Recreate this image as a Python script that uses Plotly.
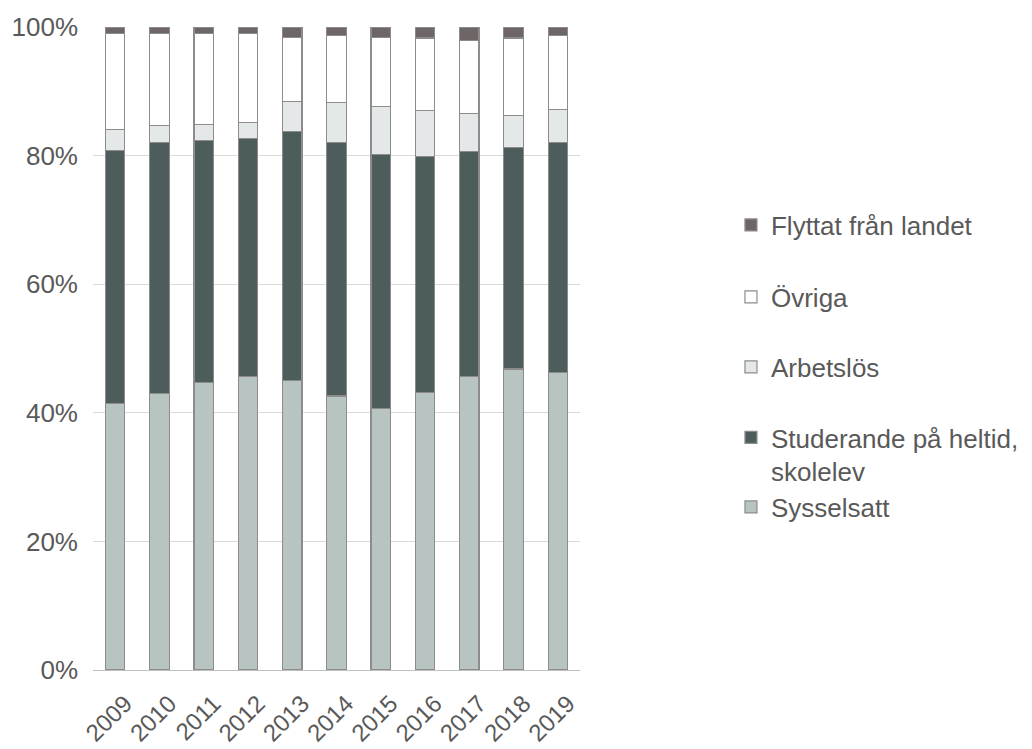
import plotly.graph_objects as go

years = ["2009", "2010", "2011", "2012", "2013", "2014", "2015", "2016", "2017", "2018", "2019"]
sysselsatt = [41.5, 43.0, 44.7, 45.7, 45.0, 42.6, 40.7, 43.2, 45.6, 46.8, 46.3]
studerande = [39.3, 39.0, 37.6, 37.0, 38.7, 39.4, 39.5, 36.6, 35.0, 34.4, 35.7]
arbetslos = [3.3, 2.7, 2.5, 2.4, 4.7, 6.3, 7.4, 7.2, 5.9, 5.0, 5.2]
ovriga = [14.9, 14.3, 14.2, 13.9, 10.0, 10.4, 10.8, 11.3, 11.4, 12.1, 11.5]
flyttat = [1.0, 1.0, 1.0, 1.0, 1.6, 1.3, 1.6, 1.7, 2.1, 1.7, 1.3]

series = [
    ("Sysselsatt", sysselsatt, "#b8c4c2"),
    ("Studerande på heltid,<br>skolelev", studerande, "#4d5d5c"),
    ("Arbetslös", arbetslos, "#e4e8e8"),
    ("Övriga", ovriga, "#ffffff"),
    ("Flyttat från landet", flyttat, "#6e6566"),
]

# legend slot (screen-space centre of first text line), one legend per series
legend_rows = [507, 436, 367, 297, 225]
plot_top, plot_bot = 27, 670  # screen pixels (page has 8px body margin)

font = "Liberation Sans, Arial, sans-serif"
leg_font = dict(family=font, size=26, color="#595959")

fig = go.Figure()
layout_legends = {}
for i, (name, vals, color) in enumerate(series):
    lname = "legend" if i == 0 else f"legend{i+1}"
    fig.add_trace(go.Bar(
        x=years, y=vals, name=name, legend=lname,
        marker=dict(color=color, line=dict(color="#8c8c8c", width=1.2)),
    ))
    row = legend_rows[i]
    two_line = "<br>" in name
    ypos = (plot_bot - (row - 22 if two_line else row)) / (plot_bot - plot_top)
    layout_legends[lname] = dict(
        x=1.31, xanchor="left",
        y=ypos, yanchor="top" if two_line else "middle",
        font=leg_font, valign="top", itemwidth=30,
        bgcolor="rgba(0,0,0,0)",
    )

fig.update_layout(
    barmode="stack",
    bargap=0.56,
    width=1032, height=749,
    margin=dict(l=85, r=460, t=19, b=87, autoexpand=False),
    paper_bgcolor="white", plot_bgcolor="white",
    font=dict(family=font, size=25, color="#595959"),
    showlegend=True,
    xaxis=dict(
        tickangle=-45, showline=True, linecolor="#bfbfbf", linewidth=1,
        ticks="", tickfont=dict(size=24, color="#595959"),
        ticklabelshift=10, ticklabelstandoff=9, automargin=False,
    ),
    yaxis=dict(
        range=[0, 100], dtick=20, ticksuffix="%",
        gridcolor="#d9d9d9", gridwidth=1, zeroline=False,
        tickfont=dict(size=26, color="#595959"), ticks="",
        ticklabelstandoff=14, automargin=False,
    ),
    **layout_legends,
)

fig.write_html("out.html")
